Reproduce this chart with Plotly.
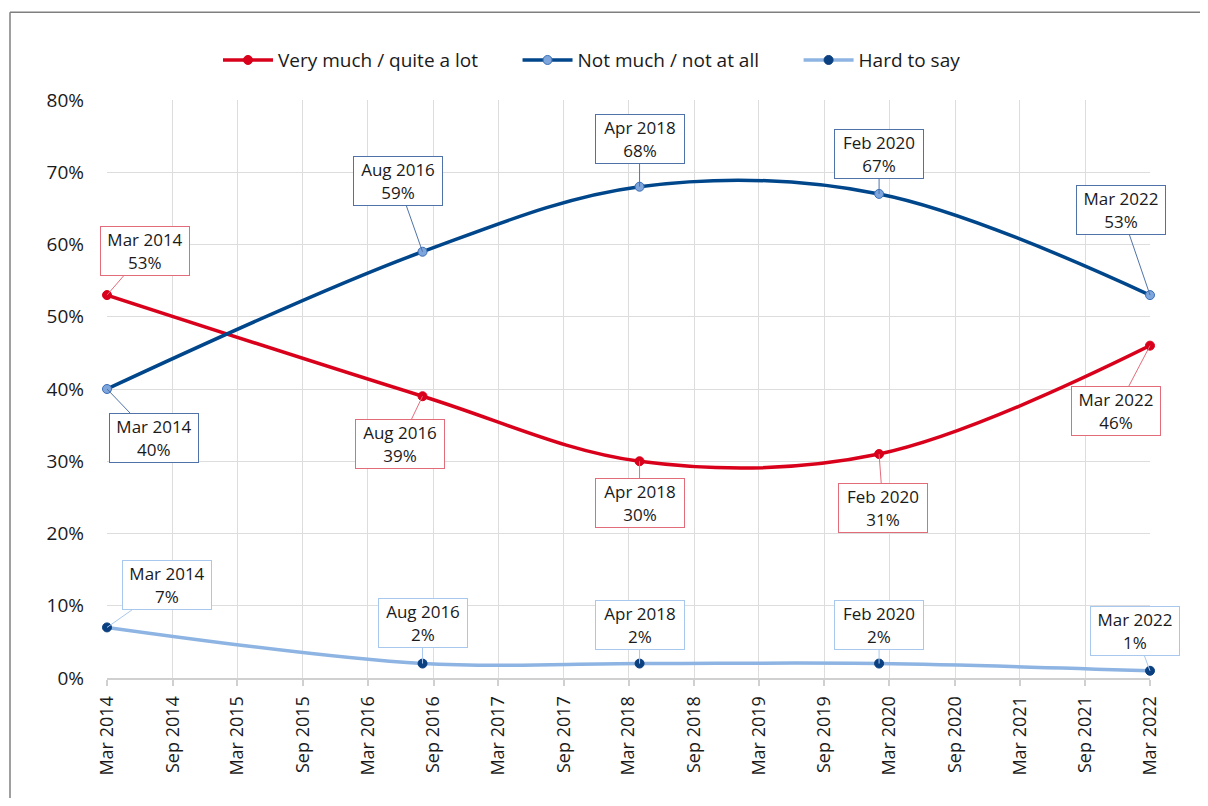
import plotly.graph_objects as go

dates = ["2014-03-01", "2016-08-01", "2018-04-01", "2020-02-01", "2022-03-01"]
date_labels = ["Mar 2014", "Aug 2016", "Apr 2018", "Feb 2020", "Mar 2022"]
very_much = [53, 39, 30, 31, 46]
not_much = [40, 59, 68, 67, 53]
hard_to_say = [7, 2, 2, 2, 1]

series_names = ["Very much / quite a lot", "Not much / not at all", "Hard to say"]

# callout offsets (pixels) for each series' label boxes
offsets = {
    0: [(38, -44), (-23, 48), (0, 42), (4, 54), (-34, 65)],
    1: [(47, 49), (-25, -71), (0, -48), (0, -40), (-29, -85)],
    2: [(60, -42), (0, -41), (0, -39), (0, -39), (-15, -40)],
}

FONT = "Open Sans"
RED = "#D9001B"
DBLUE = "#00468B"
LBLUE = "#8DB4E2"

styles = [
    dict(line=RED, mfill=RED, mline=RED, box="#E36C7A"),
    dict(line=DBLUE, mfill="#7EA6DC", mline="#3A6DB5", box="#4F73A8"),
    dict(line=LBLUE, mfill="#0A3F80", mline="#0A3F80", box="#A9C8EE"),
]

PAD = "\u00a0" * 7

fig = go.Figure()
all_values = [very_much, not_much, hard_to_say]
for i, (name, vals) in enumerate(zip(series_names, all_values)):
    st = styles[i]
    fig.add_trace(go.Scatter(
        x=dates, y=[v / 100 for v in vals],
        name=name + (PAD if i < 2 else ""),
        mode="lines+markers",
        line=dict(color=st["line"], width=3.5, shape="spline", smoothing=1.0),
        marker=dict(size=9, color=st["mfill"], line=dict(color=st["mline"], width=1)),
        cliponaxis=False,
    ))
    for j, (d, lab, v) in enumerate(zip(dates, date_labels, vals)):
        ax, ay = offsets[i][j]
        fig.add_annotation(
            x=d, y=v / 100, xref="x", yref="y",
            text=f"{lab}<br>{v}%",
            showarrow=True, arrowhead=0, arrowwidth=1, arrowcolor=st["box"],
            ax=ax, ay=ay,
            bgcolor="white", bordercolor=st["box"], borderwidth=1,
            borderpad=3, width=82, height=42,
            font=dict(family=FONT, size=17, color="#1a1a1a"),
        )

# outer frame: only left and top edges are visible in the reference
frame = dict(color="#7F7F7F", width=1.5)
fig.add_shape(type="line", xref="paper", yref="paper",
              x0=-0.093, y0=1.152, x1=-0.093, y1=-0.6, line=frame, layer="below")
fig.add_shape(type="line", xref="paper", yref="paper",
              x0=-0.093, y0=1.152, x1=1.3, y1=1.152, line=frame, layer="below")

fig.update_layout(
    width=1192, height=790,
    margin=dict(l=99, r=50, t=92, b=120),
    paper_bgcolor="white", plot_bgcolor="white",
    font=dict(family=FONT, size=18, color="#1a1a1a"),
    showlegend=True,
    legend=dict(orientation="h", x=0.465, xanchor="center", y=1.069, yanchor="middle",
                font=dict(family=FONT, size=19), itemwidth=50, traceorder="normal"),
    xaxis=dict(
        type="date", range=["2014-03-01", "2022-03-01"],
        tick0="2014-03-01", dtick="M6", tickformat="%b %Y",
        tickangle=-90, showgrid=True, gridcolor="#DDDDDD", gridwidth=1,
        showline=True, linecolor="#D0D0D0", linewidth=2,
        ticks="outside", ticklen=6, tickcolor="#D0D0D0", tickwidth=1.5,
        tickfont=dict(family=FONT, size=18), zeroline=False, ticklabelstandoff=3,
    ),
    yaxis=dict(
        range=[0, 0.8], dtick=0.1, tickformat=".0%",
        showgrid=True, gridcolor="#DDDDDD", gridwidth=1, zeroline=False,
        ticks="", ticklabelstandoff=22,
        tickfont=dict(family=FONT, size=19),
    ),
)

fig.write_html("out.html")
